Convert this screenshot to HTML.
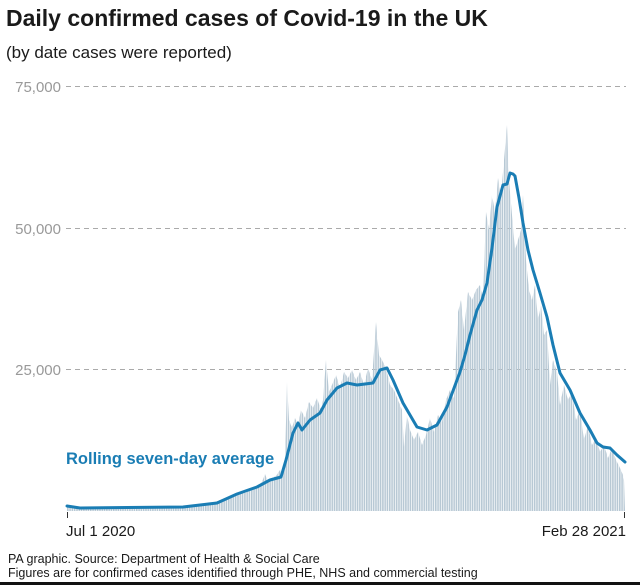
<!DOCTYPE html>
<html><head><meta charset="utf-8"><style>
body{margin:0;background:#fff;width:640px;height:586px;overflow:hidden;font-family:"Liberation Sans",sans-serif}
</style></head><body>
<svg width="640" height="586" xmlns="http://www.w3.org/2000/svg" style="position:absolute;left:0;top:0">
<defs>
<pattern id="gap" x="67" y="0" width="2.3" height="10" patternUnits="userSpaceOnUse">
<rect x="0" y="0" width="1.6" height="10" fill="#b7c8d4"/>
</pattern>
</defs>
<text x="6" y="26" font-size="23" font-weight="bold" fill="#1a1a1a" font-family="Liberation Sans, sans-serif">Daily confirmed cases of Covid-19 in the UK</text>
<text x="6" y="58" font-size="17" fill="#1a1a1a" font-family="Liberation Sans, sans-serif">(by date cases were reported)</text>
<g font-size="15" fill="#999" font-family="Liberation Sans, sans-serif" text-anchor="end">
<text x="61" y="92">75,000</text><text x="61" y="234">50,000</text><text x="61" y="375">25,000</text>
</g>
<g stroke="#aaa" stroke-width="1" stroke-dasharray="5,4">
<line x1="66" y1="86.5" x2="626" y2="86.5"/><line x1="66" y1="228.5" x2="626" y2="228.5"/><line x1="66" y1="369.5" x2="626" y2="369.5"/>
</g>
<polygon fill="url(#gap)" points="67,511 67,507 150,508 185,507 200,505 215,502 225,498 235,495 245,493 252,490 258,486 262,482 265,474 268,482 272,478 276,476 280,470 283,474 285,462 287,382 289,420 292,428 295,418 298,425 301,410 305,418 309,402 313,408 317,398 321,410 323,400 326,360 329,392 332,385 336,375 340,388 344,372 348,378 352,370 356,380 360,372 364,385 368,368 372,380 376,322 379,355 382,360 386,368 390,385 394,390 398,400 402,410 404,447 407,415 410,430 414,440 418,432 422,445 426,435 430,418 434,432 438,415 442,422 446,400 450,390 454,398 458,312 461,300 464,330 468,292 472,300 476,290 480,285 483,300 486,212 489,230 492,195 495,212 498,178 501,196 504,160 507,125 509,180 512,215 515,250 518,240 521,230 523,195 526,260 529,290 532,300 535,285 538,320 541,305 544,335 547,330 550,385 553,360 557,372 560,405 564,385 568,400 572,392 576,420 580,410 584,440 588,425 592,445 596,438 600,452 604,445 608,458 612,448 616,460 620,468 623,475 624,480 625,511"/>
<polyline fill="none" stroke="#1a7db4" stroke-width="3" stroke-linejoin="round" stroke-linecap="round" points="67,506 80,508 183,507 217,503 237,494 257,487 270,480 281,477 286,460 293,433 298,423 302,430 310,420 320,413 327,400 337,388 347,383 357,385 373,383 380,370 387,368 393,380 403,403 417,427 427,430 437,425 447,407 460,372 465,355 470,335 477,310 482,300 487,283 492,248 497,207 500,196 503,185 507,184 510,173 513,174 515,176 519,198 523,223 528,250 533,270 540,293 547,317 553,345 560,373 570,390 580,413 590,430 597,443 603,447 610,448 617,455 625,462"/>
<text x="66" y="464" font-size="16.5" font-weight="bold" fill="#1a7db4" font-family="Liberation Sans, sans-serif">Rolling seven-day average</text>
<g stroke="#333" stroke-width="1"><line x1="67.5" y1="512" x2="67.5" y2="518"/><line x1="624.5" y1="512" x2="624.5" y2="518"/></g>
<g font-size="15" fill="#1a1a1a" font-family="Liberation Sans, sans-serif">
<text x="66" y="536">Jul 1 2020</text><text x="626" y="536" text-anchor="end">Feb 28 2021</text>
</g>
<g font-size="12.5" fill="#1a1a1a" font-family="Liberation Sans, sans-serif">
<text x="8" y="563">PA graphic. Source: Department of Health &amp; Social Care</text>
<text x="8" y="577">Figures are for confirmed cases identified through PHE, NHS and commercial testing</text>
</g>
<rect x="0" y="582" width="640" height="3" fill="#111"/>
</svg>
</body></html>
